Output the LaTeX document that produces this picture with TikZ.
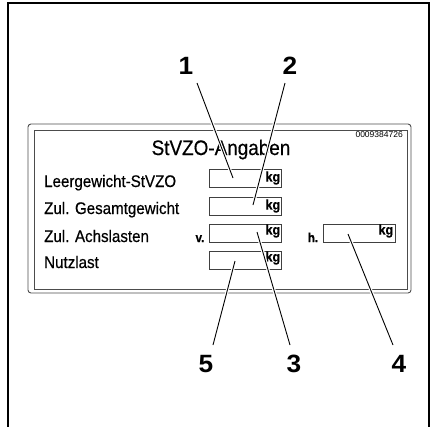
\documentclass[tikz,border=0pt]{standalone}
\usepackage{fontspec}
\setmainfont{Liberation Sans}
\newfontfamily\condfont[FakeStretch=0.9,FakeBold=0.5]{Liberation Sans}
\newfontfamily\numfont[FakeStretch=1.05]{Liberation Sans}
\begin{document}
\begin{tikzpicture}[x=1pt,y=-1pt,
  framestyle/.style={line width=1.6pt,black},
  platestyle/.style={line width=0.9pt,draw=black!70},
  fieldbox/.style={draw=black!75,line width=0.8pt,minimum width=72pt,minimum height=18pt,inner sep=0pt},
  rowlabel/.style={anchor=base west,inner sep=0pt,font=\condfont\fontsize{16.8}{18}\selectfont},
  unitlabel/.style={anchor=east,inner sep=0pt,font=\condfont\bfseries\fontsize{14}{15}\selectfont},
  sidelabel/.style={anchor=base,inner sep=0pt,font=\condfont\bfseries\fontsize{13}{14}\selectfont},
  numlabel/.style={inner sep=0pt,font=\numfont\bfseries\fontsize{25}{26}\selectfont},
  leader/.style={line width=0.9pt,black,preaction={draw=white,line width=3.2pt}}
]
\useasboundingbox (0,0) rectangle (436,426);
% outer frame (open at the bottom)
\draw[framestyle] (8,430) -- (8,3) -- (429,3) -- (429,430);
% plate
\draw[platestyle,rounded corners=3pt] (28,124) rectangle (411,293);
\draw[platestyle] (34,130) rectangle (407,289);
\node[anchor=base east,inner sep=0pt,font=\fontsize{8.5}{9}\selectfont] (code) at (403,137) {0009384726};
\node[anchor=base,inner sep=0pt,font=\condfont\fontsize{21}{22}\selectfont] (title) at (221,155) {StVZO-Angaben};
% rows
\node[rowlabel] (l1) at (44,187) {Leergewicht-StVZO};
\node[rowlabel] (l2) at (44,214) {Zul. Gesamtgewicht};
\node[rowlabel] (l3) at (44,242) {Zul. Achslasten};
\node[rowlabel] (l4) at (44,268) {Nutzlast};
% fields
\node[fieldbox] (b1) at (245,178) {};
\node[fieldbox] (b2) at (245,206) {};
\node[fieldbox] (b3) at (245,233) {};
\node[fieldbox] (b5) at (245,260) {};
\node[fieldbox] (b4) at (359,233) {};
\node[unitlabel] (k1) at ([xshift=-1pt]b1.east) {kg};
\node[unitlabel] (k2) at ([xshift=-1pt]b2.east) {kg};
\node[unitlabel] (k3) at ([xshift=-1pt,yshift=2pt]b3.east) {kg};
\node[unitlabel] (k5) at ([xshift=-1pt,yshift=2pt]b5.east) {kg};
\node[unitlabel] (k4) at ([xshift=-2pt,yshift=2pt]b4.east) {kg};
\node[sidelabel] (v) at (200,242) {v.};
\node[sidelabel] (h) at (313,242) {h.};
% callout numbers
\node[numlabel] (n1) at (186,66) {1};
\node[numlabel] (n2) at (290,66) {2};
\node[numlabel] (n5) at (206,364) {5};
\node[numlabel] (n3) at (294,364) {3};
\node[numlabel] (n4) at (399,364) {4};
% leader end points
\coordinate (s1) at (197,83);
\coordinate (s2) at (285,83);
\coordinate (s5) at (213,345);
\coordinate (s3) at (290,345);
\coordinate (s4) at (393,345);
\coordinate (t1) at (233,178);
\coordinate (t2) at (253,205);
\coordinate (t3) at (257,232);
\coordinate (t5) at (235,261);
\coordinate (t4) at (348,234);
\draw[leader] (s1) -- (t1);
\draw[leader] (s2) -- (t2);
\draw[leader] (s3) -- (t3);
\draw[leader] (s5) -- (t5);
\draw[leader] (s4) -- (t4);
\end{tikzpicture}
\end{document}
